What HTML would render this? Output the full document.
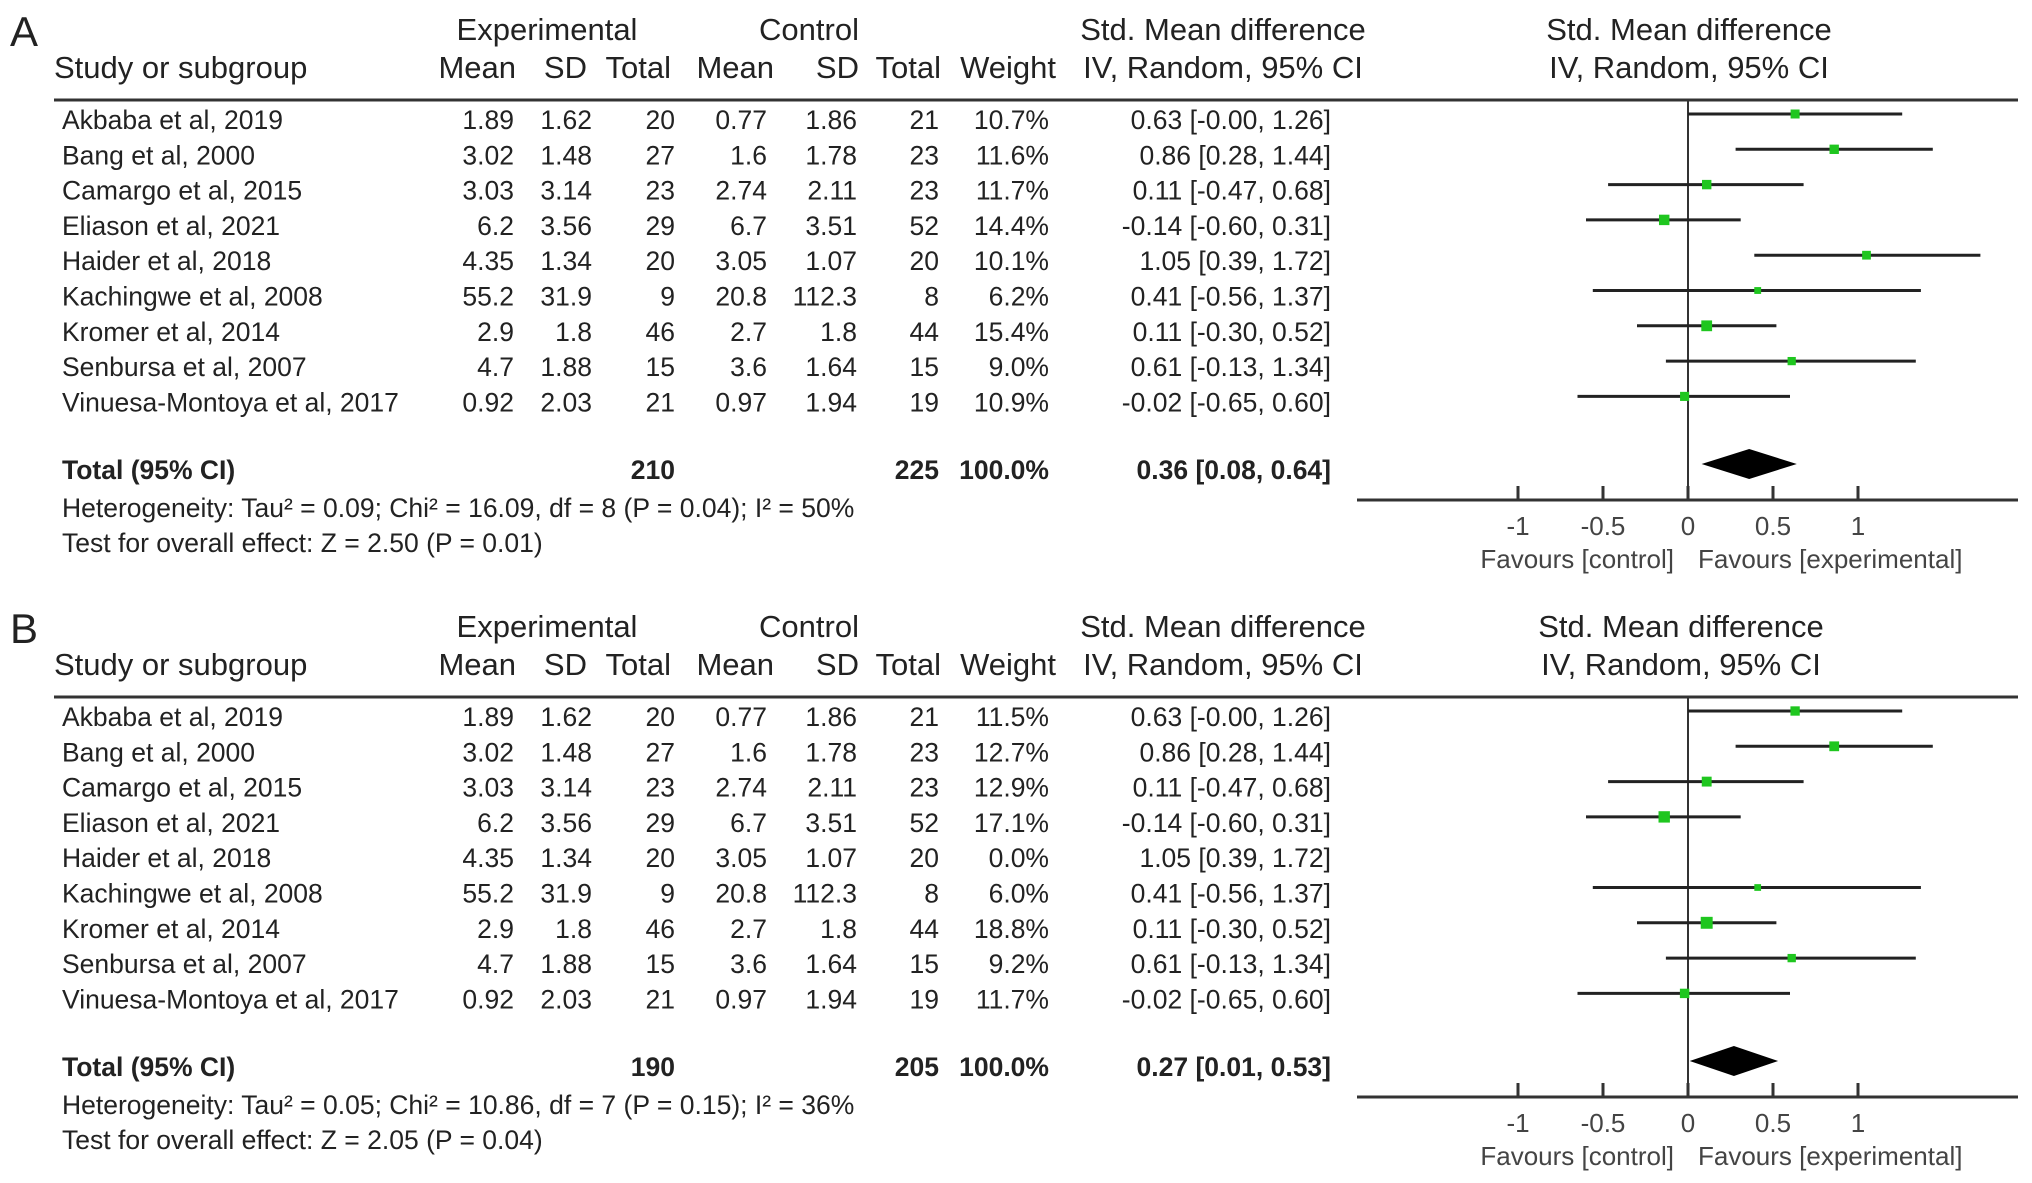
<!DOCTYPE html>
<html><head><meta charset="utf-8">
<style>
html,body{margin:0;padding:0;background:#fff;}
svg{display:block;}
.h{font-family:"Liberation Sans",Arial,sans-serif;font-size:31px;fill:#222;}
.r{font-family:"Liberation Sans",Arial,sans-serif;font-size:26.5px;fill:#222;}
.b{font-weight:bold;}
.f{font-family:"Liberation Sans",Arial,sans-serif;font-size:26px;fill:#444;}
</style></head>
<body>
<svg id="c" width="2032" height="1183" viewBox="0 0 2032 1183" xmlns="http://www.w3.org/2000/svg"></svg>
<script>
const studies = ["Akbaba et al, 2019","Bang et al, 2000","Camargo et al, 2015","Eliason et al, 2021","Haider et al, 2018","Kachingwe et al, 2008","Kromer et al, 2014","Senbursa et al, 2007","Vinuesa-Montoya et al, 2017"];
const expMean = ["1.89","3.02","3.03","6.2","4.35","55.2","2.9","4.7","0.92"];
const expSD = ["1.62","1.48","3.14","3.56","1.34","31.9","1.8","1.88","2.03"];
const expN = [20,27,23,29,20,9,46,15,21];
const ctlMean = ["0.77","1.6","2.74","6.7","3.05","20.8","2.7","3.6","0.97"];
const ctlSD = ["1.86","1.78","2.11","3.51","1.07","112.3","1.8","1.64","1.94"];
const ctlN = [21,23,23,52,20,8,44,15,19];
const smd = [0.63,0.86,0.11,-0.14,1.05,0.41,0.11,0.61,-0.02];
const lo = [-0.00,0.28,-0.47,-0.60,0.39,-0.56,-0.30,-0.13,-0.65];
const hi = [1.26,1.44,0.68,0.31,1.72,1.37,0.52,1.34,0.60];
const ciLabels = ["0.63 [-0.00, 1.26]","0.86 [0.28, 1.44]","0.11 [-0.47, 0.68]","-0.14 [-0.60, 0.31]","1.05 [0.39, 1.72]","0.41 [-0.56, 1.37]","0.11 [-0.30, 0.52]","0.61 [-0.13, 1.34]","-0.02 [-0.65, 0.60]"];
const weightA = [10.7,11.6,11.7,14.4,10.1,6.2,15.4,9.0,10.9];
const weightB = [11.5,12.7,12.9,17.1,0.0,6.0,18.8,9.2,11.7];
const totalA = {n1:210,n2:225,est:0.36,lo:0.08,hi:0.64,het:"Heterogeneity: Tau² = 0.09; Chi² = 16.09, df = 8 (P = 0.04); I² = 50%",z:"Test for overall effect: Z = 2.50 (P = 0.01)"};
const totalB = {n1:190,n2:205,est:0.27,lo:0.01,hi:0.53,het:"Heterogeneity: Tau² = 0.05; Chi² = 10.86, df = 7 (P = 0.15); I² = 36%",z:"Test for overall effect: Z = 2.05 (P = 0.04)"};
const ticks = [-1,-0.5,0,0.5,1];
const tickLabels = ["-1","-0.5","0","0.5","1"];

const svg = document.getElementById('c');
const NS = "http://www.w3.org/2000/svg";
function x(v){ return 1688 + v*170; }
function el(tag, attrs, parent){
  const e = document.createElementNS(NS, tag);
  for (const k in attrs) e.setAttribute(k, attrs[k]);
  (parent||svg).appendChild(e); return e;
}
function txt(s, xx, yy, cls, anchor, parent){
  const t = el('text', {x:xx, y:yy, class:cls, 'text-anchor':anchor||'start'}, parent);
  t.textContent = s; return t;
}

function panel(label, oy, weights, tot, hdrCx){
  const g = el('g', {});
  
  
  txt(label, 10, oy+46, 'h', 'start', g).setAttribute('style','font-size:42px');
  txt("Experimental", 547, oy+40, 'h', 'middle', g);
  txt("Control", 809, oy+40, 'h', 'middle', g);
  txt("Std. Mean difference", 1223, oy+40, 'h', 'middle', g);
  txt("Std. Mean difference", hdrCx, oy+40, 'h', 'middle', g);
  txt("Study or subgroup", 54, oy+78, 'h', 'start', g);
  const hx=[516,587,671,774,859,941,1056]; const hs=["Mean","SD","Total","Mean","SD","Total","Weight"];
  hs.forEach((s,i)=>txt(s,hx[i],oy+78,'h','end',g));
  txt("IV, Random, 95% CI", 1223, oy+78, 'h', 'middle', g);
  txt("IV, Random, 95% CI", hdrCx, oy+78, 'h', 'middle', g);
  el('line',{x1:54,y1:oy+100,x2:2018,y2:oy+100,stroke:'#333','stroke-width':3},g);
  el('line',{x1:x(0),y1:oy+100,x2:x(0),y2:oy+500,stroke:'#333','stroke-width':2},g);
  const step = 35.3;
  studies.forEach((s,i)=>{
    const cy = oy+114+i*step, by = oy+129+i*step;
    const row = el('g',{},g);
    
    
    txt(s,62,by,'r','start',row);
    txt(expMean[i],514,by,'r','end',row);
    txt(expSD[i],592,by,'r','end',row);
    txt(String(expN[i]),675,by,'r','end',row);
    txt(ctlMean[i],767,by,'r','end',row);
    txt(ctlSD[i],857,by,'r','end',row);
    txt(String(ctlN[i]),939,by,'r','end',row);
    txt(weights[i].toFixed(1)+"%",1049,by,'r','end',row);
    txt(ciLabels[i],1331,by,'r','end',row);
    if (weights[i] > 0){
      const ci = el('line',{x1:x(lo[i]),y1:cy,x2:x(hi[i]),y2:cy,stroke:'#222','stroke-width':3},row);
      
      
      const sz = Math.sqrt(weights[i])*2.75;
      const sq = el('rect',{x:x(smd[i])-sz/2,y:cy-sz/2,width:sz,height:sz,fill:'#1fc61f'},row);
      
      
    }
  });
  const ty = oy+479;
  txt("Total (95% CI)",62,ty,'r b','start',g);
  txt(String(tot.n1),675,ty,'r b','end',g);
  txt(String(tot.n2),939,ty,'r b','end',g);
  txt("100.0%",1049,ty,'r b','end',g);
  txt(tot.est.toFixed(2)+" ["+tot.lo.toFixed(2)+", "+tot.hi.toFixed(2)+"]",1331,ty,'r b','end',g);
  const dy = oy+464;
  const d = el('polygon',{points:`${x(tot.lo)},${dy} ${x(tot.est)},${dy-15} ${x(tot.hi)},${dy} ${x(tot.est)},${dy+15}`,fill:'#000'},g);
  
  
  txt(tot.het,62,oy+517,'r','start',g);
  txt(tot.z,62,oy+552,'r','start',g);
  el('line',{x1:1357,y1:oy+500,x2:2018,y2:oy+500,stroke:'#333','stroke-width':3},g);
  ticks.forEach((t,i)=>{
    el('line',{x1:x(t),y1:oy+486,x2:x(t),y2:oy+500,stroke:'#333','stroke-width':3},g);
    txt(tickLabels[i],x(t),oy+535,'f','middle',g);
  });
  txt("Favours [control]",1674,oy+568,'f','end',g);
  txt("Favours [experimental]",1698,oy+568,'f','start',g);
}
panel("A", 0, weightA, totalA, 1689);
panel("B", 597, weightB, totalB, 1681);
</script>
</body></html>
